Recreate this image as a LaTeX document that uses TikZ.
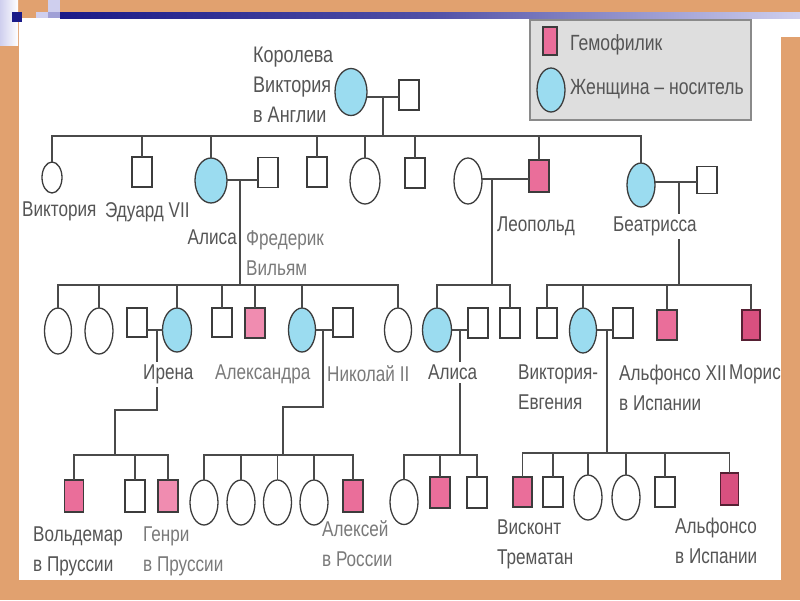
\documentclass[tikz,border=0pt]{standalone}
\usepackage{fontspec}
\setmainfont{Liberation Sans}[FakeStretch=0.8]
\usetikzlibrary{shapes.geometric}
\definecolor{bgor}{HTML}{E1A16F}
\definecolor{navy}{HTML}{1A1A88}
\definecolor{lav}{HTML}{CFCFEE}
\definecolor{lavm}{HTML}{A0A0D6}
\definecolor{edge}{HTML}{3C3C3C}
\definecolor{linec}{HTML}{4A4A4A}
\definecolor{txt}{HTML}{555555}
\definecolor{txtl}{HTML}{7A7A7A}
\definecolor{hemopink}{HTML}{EA6E9A}
\definecolor{hemolight}{HTML}{F08CB0}
\definecolor{hemodark}{HTML}{D8507F}
\definecolor{carblue}{HTML}{9BDCF0}
\definecolor{legfill}{HTML}{DEDEDE}
\definecolor{legedge}{HTML}{8A8A8A}
\newcommand\lblfont{\fontsize{21.4}{30}\selectfont}
\newcommand\topfont{\fontsize{22.5}{30}\selectfont}
\newcommand\legfont{\fontsize{22}{30}\selectfont}
\tikzset{
  pers/.style={draw=edge, line width=1.3pt, inner sep=0pt, outer sep=0pt},
  male/.style={pers, rectangle, minimum width=20pt, minimum height=30pt, fill=white},
  fem/.style={pers, ellipse, minimum width=28pt, minimum height=45pt, fill=white},
  hemo/.style={male, fill=hemopink},
  carr/.style={fem, fill=carblue},
  link/.style={draw=linec, line width=1.6pt},
  lbl/.style={text=txt, font=\lblfont, inner xsep=0pt, inner ysep=3pt, align=left, anchor=north west},
  lblw/.style={lbl, fill=white},
}
\begin{document}
\begin{tikzpicture}[x=1pt,y=-1pt]
\useasboundingbox (0,0) rectangle (800,600);
% slide background
\fill[bgor] (0,0) rectangle (800,600);
\fill[white] (19,18) rectangle (781,580);
\fill[white] (781,17) rectangle (800,37);
\shade[left color=lav, right color=white] (0,0) rectangle (18,45);
\fill[lav] (48,0) rectangle (60,12);
\fill[lav] (36,12) rectangle (48,18);
\fill[lavm] (48,12) rectangle (60,18);
\shade[left color=navy, right color=lav, middle color=navy!70!lav] (60,12) rectangle (800,18);
\fill[navy] (12,12) rectangle (22,22);

% legend
\draw[fill=legfill, draw=legedge, line width=1.5pt] (530,20) rectangle (751,120);
\node[pers, rectangle, minimum width=14pt, minimum height=28pt, fill=hemopink] (lgh) at (550,41) {};
\node[carr, minimum width=28pt, minimum height=44pt] (lgc) at (551,90) {};
\node[lbl, font=\legfont] (lgt1) at (570,31) {Гемофилик};
\node[lbl, font=\legfont] (lgt2) at (570,76) {Женщина – носитель};

% generation I
\node[carr, minimum width=32pt, minimum height=47pt] (qv) at (351,92) {};
\node[male] (qa) at (409,95) {};
\coordinate (m0) at (383,97);
\coordinate (s0) at (383,136);

% generation II
\node[fem, minimum width=20pt, minimum height=31pt] (c1) at (52,177.5) {};
\node[male] (c2) at (142,172) {};
\node[carr, minimum width=32pt, minimum height=45pt] (c3) at (211,180.5) {};
\node[male] (c3h) at (268,172.5) {};
\node[male] (c4) at (317,172) {};
\node[fem, minimum width=30pt, minimum height=46pt] (c5) at (365,181) {};
\node[male] (c6) at (415,173) {};
\node[fem, minimum width=28pt, minimum height=46pt] (c7w) at (468,181) {};
\node[hemo, minimum height=32pt] (c7) at (539,176) {};
\node[carr, minimum width=28pt, minimum height=44pt] (c8) at (641,185) {};
\node[male, minimum height=27pt] (c8h) at (707,180) {};
\coordinate (m3) at (240,180);
\coordinate (s3) at (240,285);
\coordinate (m7) at (492,179);
\coordinate (s7) at (492,285);
\coordinate (m8) at (679,182);
\coordinate (s8) at (679,285);

% generation III
\node[fem, minimum width=27pt, minimum height=46pt] (a1) at (58,331) {};
\node[fem, minimum width=28pt, minimum height=46pt] (a2) at (99,331) {};
\node[male, minimum height=29pt] (a3h) at (137,322.5) {};
\node[carr, minimum width=29pt, minimum height=44pt] (a3) at (177,330) {};
\node[male, minimum height=29pt] (a4) at (222,322.5) {};
\node[hemo, fill=hemolight] (a5) at (255,323) {};
\node[carr, minimum width=27pt, minimum height=44pt] (a6) at (302,330) {};
\node[male, minimum height=29pt] (a6h) at (343,322.5) {};
\node[fem, minimum width=27pt, minimum height=44pt] (a7) at (398,330) {};
\node[carr, minimum width=29pt, minimum height=44pt] (l1) at (437,330) {};
\node[male] (l1h) at (478,323) {};
\node[male] (l2) at (510,323) {};
\node[male] (b1) at (547,323) {};
\node[carr, minimum width=27pt, minimum height=45pt] (b2) at (583,330.5) {};
\node[male] (b2h) at (623,323) {};
\node[hemo] (b3) at (667,325) {};
\node[hemo, fill=hemodark, draw=hemodark!40!black, minimum width=18pt] (b4) at (751,325) {};
\coordinate (ma3) at (157,330);
\coordinate (j3) at (157,410);
\coordinate (sa3) at (115,455);
\coordinate (ma6) at (323,330);
\coordinate (j6) at (323,407);
\coordinate (sa6) at (283,455);
\coordinate (ml1) at (460,330);
\coordinate (sl1) at (460,455);
\coordinate (mb2) at (607,330);
\coordinate (sb2) at (607,453);

% generation IV
\node[hemo, minimum width=19pt, minimum height=32pt] (i1) at (74,496) {};
\node[male, minimum height=32pt] (i2) at (135,496) {};
\node[hemo, fill=hemolight, minimum height=32pt] (i3) at (168,496) {};
\node[fem] (x1) at (204,502.5) {};
\node[fem] (x2) at (241,502.5) {};
\node[fem] (x3) at (277.5,502.5) {};
\node[fem] (x4) at (314,502.5) {};
\node[hemo, minimum height=32pt] (x5) at (353,496) {};
\node[fem] (y1) at (404,502) {};
\node[hemo, minimum height=31pt] (y2) at (440,492.5) {};
\node[male, minimum height=31pt] (y3) at (477,492.5) {};
\node[hemo, minimum width=19pt] (v1) at (522.5,492) {};
\node[male] (v2) at (553,492) {};
\node[fem] (v3) at (588,497.5) {};
\node[fem] (v4) at (626,497.5) {};
\node[male] (v5) at (665,492) {};
\node[hemo, fill=hemodark, draw=hemodark!40!black, minimum width=18pt, minimum height=32pt] (v6) at (729.5,489) {};

% connectors
\draw[link] (qv.east |- m0) -- (qa.west |- m0);
\draw[link] (m0) -- (s0);
\foreach \c in {c1,c2,c3,c4,c5,c6,c7,c8} \draw[link] (s0) -| (\c.north);

\draw[link] (c3.east |- m3) -- (c3h.west |- m3);
\draw[link] (m3) -- (s3);
\foreach \c in {a1,a2,a3,a4,a5,a6,a7} \draw[link] (s3) -| (\c.north);

\draw[link] (c7w.east |- m7) -- (c7.west |- m7);
\draw[link] (m7) -- (s7);
\foreach \c in {l1,l2} \draw[link] (s7) -| (\c.north);

\draw[link] (c8.east |- m8) -- (c8h.west |- m8);
\draw[link] (m8) -- (s8);
\foreach \c in {b1,b2,b3,b4} \draw[link] (s8) -| (\c.north);

\draw[link] (a3h.east |- ma3) -- (a3.west |- ma3);
\draw[link] (ma3) -- (j3) -| (sa3);
\foreach \c in {i1,i2,i3} \draw[link] (sa3) -| (\c.north);

\draw[link] (a6.east |- ma6) -- (a6h.west |- ma6);
\draw[link] (ma6) -- (j6) -| (sa6);
\foreach \c in {x1,x2,x3,x4,x5} \draw[link] (sa6) -| (\c.north);

\draw[link] (l1.east |- ml1) -- (l1h.west |- ml1);
\draw[link] (ml1) -- (sl1);
\foreach \c in {y1,y2,y3} \draw[link] (sl1) -| (\c.north);

\draw[link] (b2.east |- mb2) -- (b2h.west |- mb2);
\draw[link] (mb2) -- (sb2);
\foreach \c in {v1,v2,v3,v4,v5,v6} \draw[link] (sb2) -| (\c.north);

% labels
\node[lbl, font=\topfont] (t0) at (253,44) {Королева\\Виктория\\в Англии};
\node[lbl] (t1) at (22,199) {Виктория};
\node[lbl] (t2) at (105,199) {Эдуард VII};
\node[lbl, anchor=north east] (t3) at (237,227) {Алиса};
\node[lbl, text=txtl] (t4) at (246,227) {Фредерик\\Вильям};
\node[lbl] (t5) at (497,214) {Леопольд};
\node[lblw] (t6) at (613,214) {Беатрисса};
\node[lblw] (t7) at (143,362) {Ирена};
\node[lbl, text=txtl] (t8) at (215,362) {Александра};
\node[lbl, text=txtl] (t9) at (327,362) {Николай II};
\node[lblw] (t10) at (428,362) {Алиса};
\node[lbl] (t11) at (518,362) {Виктория-\\Евгения};
\node[lbl] (t12) at (619,362) {Альфонсо XII\\в Испании};
\node[lbl] (t13) at (729,362) {Морис};
\node[lbl] (t14) at (33,524) {Вольдемар\\в Пруссии};
\node[lbl, text=txtl] (t15) at (143,524) {Генри\\в Пруссии};
\node[lbl, text=txtl] (t16) at (322,517) {Алексей\\в России};
\node[lbl] (t17) at (497,517) {Висконт\\Трематан};
\node[lbl] (t18) at (675,515) {Альфонсо\\в Испании};
\end{tikzpicture}
\end{document}
